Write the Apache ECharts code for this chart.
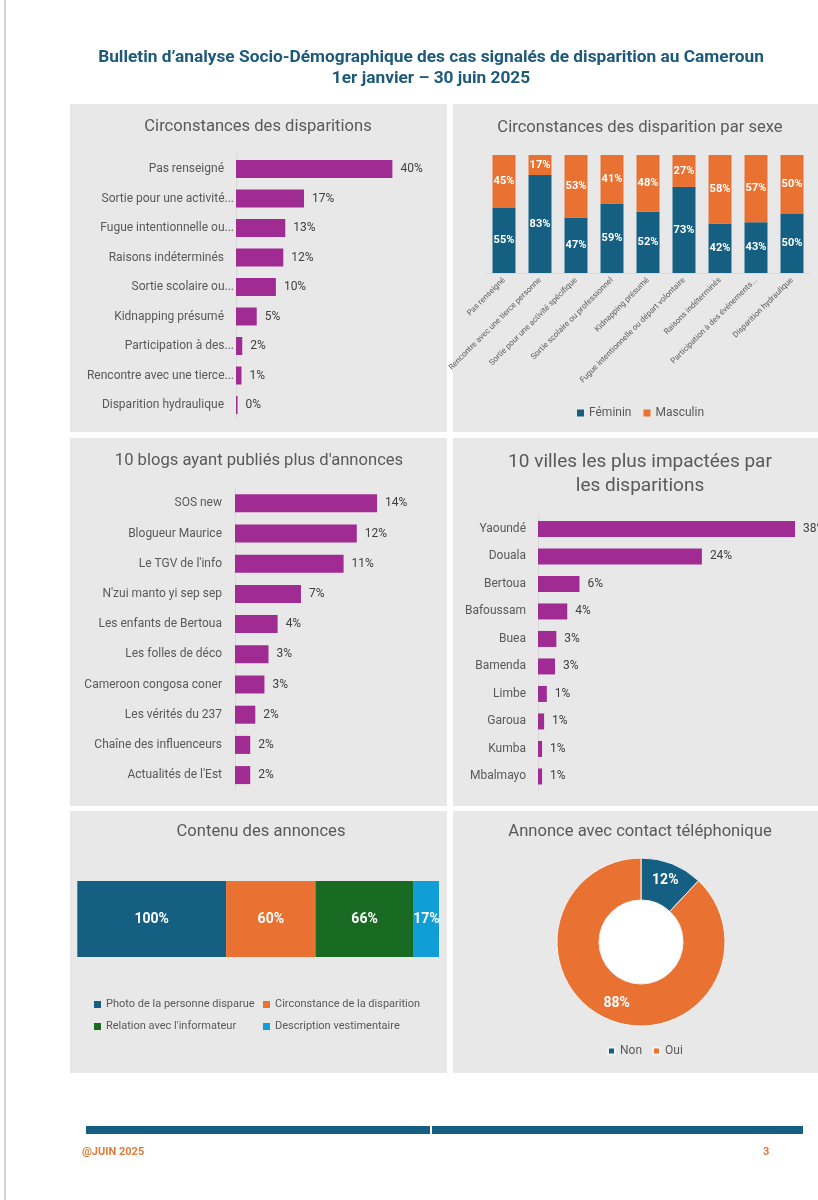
<!DOCTYPE html>
<html><head><meta charset="utf-8">
<script src="https://cdn.jsdelivr.net/npm/echarts@6/dist/echarts.min.js"></script>
<style>html,body{margin:0;padding:0;background:#fff}#c{width:818px;height:1200px}</style>
</head><body><div id="c"></div>
<script>
// ---- data ----
const circCategories = ['Pas renseigné','Sortie pour une activité...','Fugue intentionnelle ou...','Raisons indéterminés','Sortie scolaire ou...','Kidnapping présumé','Participation à des...','Rencontre avec une tierce...','Disparition hydraulique'];
const circValues = [40, 17.4, 12.6, 12.1, 10.2, 5.3, 1.6, 1.4, 0.4];

const sexCategories = ['Pas renseigné','Rencontre avec une tierce personne','Sortie pour une activité spécifique','Sortie scolaire ou professionnel','Kidnapping présumé','Fugue intentionnelle ou départ volontaire','Raisons indéterminés','Participation à des événements...','Disparition hydraulique'];
const femininValues = [55, 83, 47, 59, 52, 73, 42, 43, 50];
const masculinValues = [45, 17, 53, 41, 48, 27, 58, 57, 50];

const blogCategories = ['SOS new','Blogueur Maurice',"Le TGV de l'info","N'zui manto yi sep sep",'Les enfants de Bertoua','Les folles de déco','Cameroon congosa coner','Les vérités du 237','Chaîne des influenceurs',"Actualités de l'Est"];
const blogValues = [14, 12, 10.7, 6.5, 4.2, 3.3, 2.9, 2.0, 1.5, 1.5];

const villeCategories = ['Yaoundé','Douala','Bertoua','Bafoussam','Buea','Bamenda','Limbe','Garoua','Kumba','Mbalmayo'];
const villeValues = [37.8, 24.1, 6.1, 4.3, 2.7, 2.5, 1.3, 0.9, 0.6, 0.6];

const contenuNames = ['Photo de la personne disparue','Circonstance de la disparition',"Relation avec l'informateur",'Description vestimentaire'];
const contenuValues = [100, 60, 66, 17];

const contactNames = ['Non','Oui'];
const contactValues = [12, 88];

// ---- styles ----
const FONT = 'Roboto';
const PURPLE = '#A02B93', BLUE = '#156082', ORANGE = '#E97132', GREEN = '#196B24', LBLUE = '#0F9ED5';
const PANEL = '#e8e8e8', TXT = '#595959', VAL = '#404040', AXIS = '#d9d9d9';
const contenuColors = [BLUE, ORANGE, GREEN, LBLUE];

const pct = p => Math.round(p.value) + '%';

function catAxis(grid, data, margin, rich) {
  return {
    gridIndex: grid, type: 'category', data: data, inverse: true,
    axisTick: {show: false},
    axisLine: {show: true, lineStyle: {color: AXIS, width: 1}},
    axisLabel: Object.assign({color: TXT, fontSize: 12, fontFamily: FONT, margin: margin, interval: 0}, rich || {})
  };
}
function valAxis(grid, max) { return {gridIndex: grid, type: 'value', min: 0, max: max, show: false}; }

function hbar(axisIdx, values, barW) {
  return {
    type: 'bar', xAxisIndex: axisIdx, yAxisIndex: axisIdx, data: values, barWidth: barW,
    itemStyle: {color: PURPLE},
    label: {show: true, position: 'right', distance: 8, formatter: pct, color: VAL, fontSize: 12, fontFamily: FONT}
  };
}

function title(text, x, y, size) {
  return {type: 'text', x: x, y: y, z: 1, style: {text: text, fill: TXT, font: (size || 16.6) + 'px ' + FONT, textAlign: 'center', textVerticalAlign: 'middle'}};
}
function rect(x, y, w, h, fill) { return {type: 'rect', z: 0, shape: {x: x, y: y, width: w, height: h}, style: {fill: fill || PANEL}}; }

const legendBase = {itemWidth: 7, itemHeight: 7, icon: 'rect', padding: 0, textStyle: {color: TXT, fontFamily: FONT, fontSize: 11}};

const option = {
  animation: false,
  backgroundColor: '#ffffff',
  graphic: [
    {type: 'line', z: 0, shape: {x1: 5, y1: 0, x2: 5, y2: 1200}, style: {stroke: '#d4d4d4', lineWidth: 2}},
    rect(70, 104, 377, 328), rect(453, 104, 365, 328),
    rect(70, 438, 377, 368), rect(453, 438, 365, 368),
    rect(70, 811, 377, 262), rect(453, 811, 365, 262),
    {type: 'text', x: 431, y: 58, z: 1, style: {text: 'Bulletin d’analyse Socio-Démographique des cas signalés de disparition au Cameroun', fill: '#1d5a7a', font: 'bold 17.3px ' + FONT, textAlign: 'center', textVerticalAlign: 'middle'}},
    {type: 'text', x: 431, y: 79, z: 1, style: {text: '1er janvier – 30 juin 2025', fill: '#1d5a7a', font: 'bold 17.3px ' + FONT, textAlign: 'center', textVerticalAlign: 'middle'}},
    title('Circonstances des disparitions', 258, 127),
    title('Circonstances des disparition par sexe', 640, 128),
    title("10 blogs ayant publiés plus d'annonces", 259, 461),
    title('10 villes les plus impactées par', 640, 462, 19),
    title('les disparitions', 640, 486, 19),
    title('Contenu des annonces', 261, 832),
    title('Annonce avec contact téléphonique', 640, 832),
    {type: 'circle', z: 0, shape: {cx: 641, cy: 942, r: 42}, style: {fill: '#ffffff'}},
    rect(86, 1126, 344, 8, BLUE), rect(432, 1126, 371, 8, BLUE),
    {type: 'text', x: 82, y: 1152, z: 1, style: {text: '@JUIN 2025', fill: '#e07b39', font: 'bold 11px ' + FONT, textVerticalAlign: 'middle'}},
    {type: 'text', x: 763, y: 1152, z: 1, style: {text: '3', fill: '#e07b39', font: 'bold 11px ' + FONT, textVerticalAlign: 'middle'}}
  ],
  grid: [
    {left: 236, top: 154.25, width: 195.5, height: 265.5},
    {left: 486, top: 155, width: 324, height: 118},
    {left: 235, top: 488.2, width: 203, height: 302},
    {left: 538, top: 515.2, width: 272, height: 275},
    {left: 77.3, top: 881, width: 361.7, height: 76}
  ],
  xAxis: [
    valAxis(0, 50),
    {gridIndex: 1, type: 'category', data: sexCategories,
     axisTick: {show: false}, axisLine: {show: true, lineStyle: {color: AXIS}},
     axisLabel: {rotate: 45, fontSize: 8, color: TXT, fontFamily: FONT, margin: 6, interval: 0}},
    valAxis(2, 20),
    valAxis(3, 40),
    valAxis(4, 243)
  ],
  yAxis: [
    catAxis(0, circCategories, 2, {
      formatter: v => v.endsWith('...') ? v : '{n|' + v + '}',
      rich: {n: {padding: [0, 10, 0, 0], fontSize: 12, color: TXT, fontFamily: FONT}}
    }),
    {gridIndex: 1, type: 'value', min: 0, max: 100, show: false},
    catAxis(2, blogCategories, 13),
    catAxis(3, villeCategories, 12),
    {gridIndex: 4, type: 'category', data: [''], show: false}
  ],
  legend: [
    Object.assign({}, legendBase, {left: 577, top: 407, itemGap: 12, data: ['Féminin', 'Masculin'], textStyle: {color: TXT, fontFamily: FONT, fontSize: 12}}),
    Object.assign({}, legendBase, {left: 94, top: 999, data: [contenuNames[0]]}),
    Object.assign({}, legendBase, {left: 263, top: 999, data: [contenuNames[1]]}),
    Object.assign({}, legendBase, {left: 94, top: 1021, data: [contenuNames[2]]}),
    Object.assign({}, legendBase, {left: 263, top: 1021, data: [contenuNames[3]]}),
    Object.assign({}, legendBase, {left: 607, top: 1045, itemGap: 10, data: contactNames, textStyle: {color: TXT, fontFamily: FONT, fontSize: 12}})
  ],
  series: [
    hbar(0, circValues, 18),
    {name: 'Féminin', type: 'bar', stack: 'sexe', xAxisIndex: 1, yAxisIndex: 1, data: femininValues, barWidth: 23,
     itemStyle: {color: BLUE},
     label: {show: true, position: 'inside', formatter: pct, color: '#fff', fontWeight: 'bold', fontSize: 11, fontFamily: FONT}},
    {name: 'Masculin', type: 'bar', stack: 'sexe', xAxisIndex: 1, yAxisIndex: 1, data: masculinValues, barWidth: 23,
     itemStyle: {color: ORANGE},
     label: {show: true, position: 'inside', formatter: pct, color: '#fff', fontWeight: 'bold', fontSize: 11, fontFamily: FONT}},
    hbar(2, blogValues, 18),
    hbar(3, villeValues, 16)
  ].concat(contenuNames.map((n, i) => ({
    name: n, type: 'bar', stack: 'contenu', xAxisIndex: 4, yAxisIndex: 4, data: [contenuValues[i]], barWidth: 76,
    itemStyle: {color: contenuColors[i]},
    label: {show: true, position: 'inside', formatter: pct, color: '#fff', fontWeight: 'bold', fontSize: 14, fontFamily: FONT}
  }))).concat([{
    type: 'pie', center: [641, 942], radius: [42, 84], startAngle: 90, clockwise: true,
    data: contactNames.map((n, i) => ({name: n, value: contactValues[i], itemStyle: {color: i === 0 ? BLUE : ORANGE}})),
    itemStyle: {borderColor: '#f2f2f2', borderWidth: 1},
    label: {show: true, position: 'inside', formatter: p => p.value + '%', color: '#fff', fontWeight: 'bold', fontSize: 14, fontFamily: FONT},
    labelLine: {show: false}, emphasis: {disabled: true}
  }])
};

const chart = echarts.init(document.getElementById('c'), null, {renderer: 'canvas'});
chart.setOption(option);
</script>
</body></html>
